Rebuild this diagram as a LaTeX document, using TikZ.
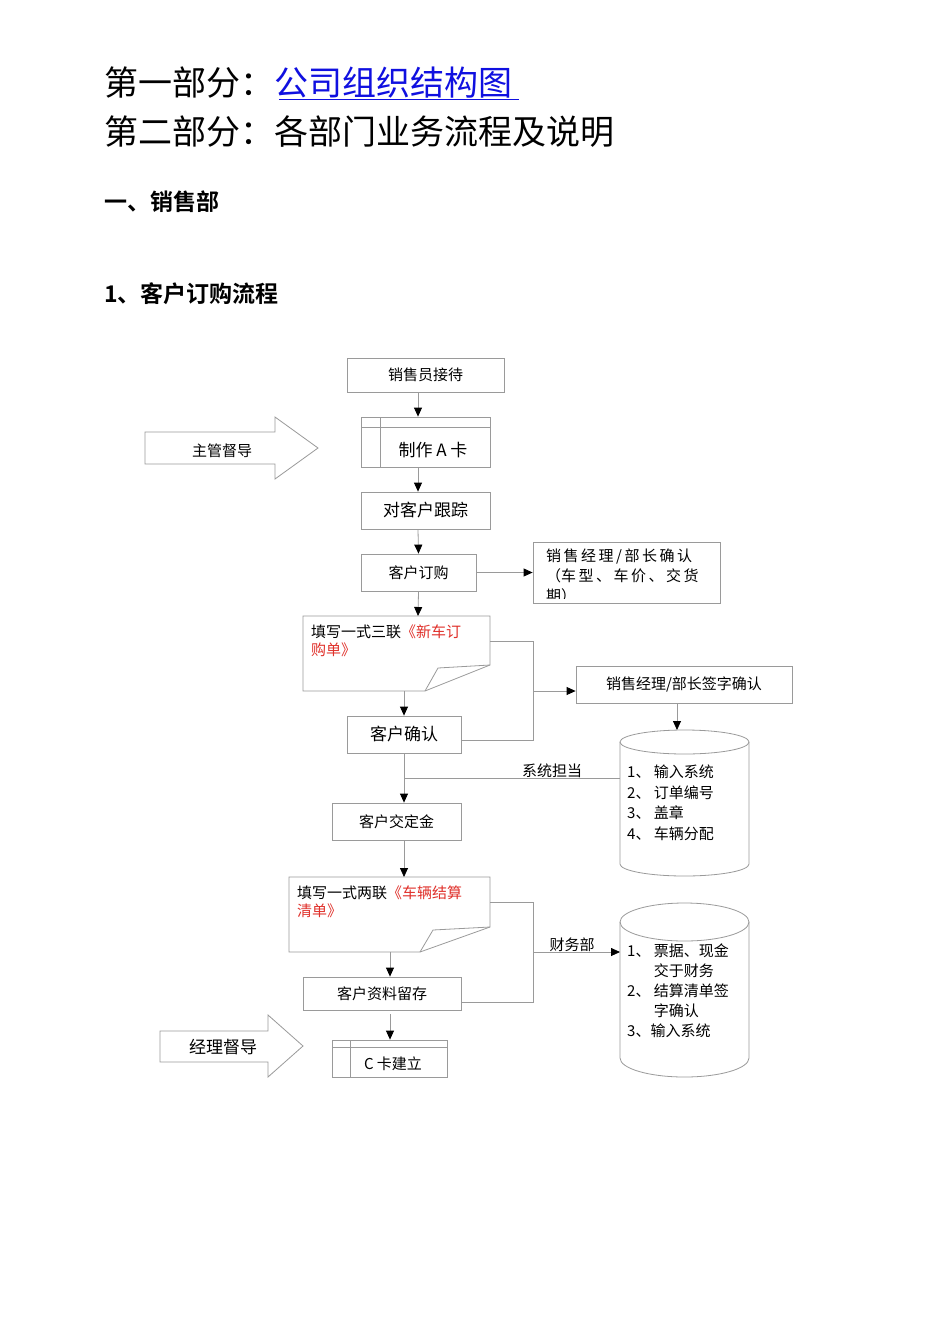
\documentclass[tikz,border=0pt]{standalone}
\usepackage{fontspec}
\setmainfont{Noto Sans CJK SC}[BoldFont={* Bold}]
\usetikzlibrary{arrows.meta}
\definecolor{ln}{HTML}{9A9A9A}
\definecolor{rd}{HTML}{E0302A}
\definecolor{lk}{HTML}{1010E0}
\tikzset{
  bx/.style={draw=ln,line width=0.8pt,inner sep=0pt,font=\fontsize{15}{18}\selectfont},
  cn/.style={draw=ln,line width=0.8pt},
  ar/.style={cn,-{Triangle[length=9pt,width=8pt,fill=black,color=black]}},
  lb/.style={font=\fontsize{15}{18}\selectfont,inner sep=1pt},
}
\begin{document}
\begin{tikzpicture}[x=1pt,y=-1pt]
\useasboundingbox[fill=white] (0,0) rectangle (950,1344);
% titles
\node[anchor=base west,inner sep=0,font=\fontsize{34}{40}\selectfont] (t1) at (104,95) {第一部分：\textcolor{lk}{公司组织结构图}};
\draw[lk,line width=1pt] (279,99) -- (519,99);
\node[anchor=base west,inner sep=0,font=\fontsize{34}{40}\selectfont] (t2) at (104,144) {第二部分：各部门业务流程及说明};
\node[anchor=base west,inner sep=0,font=\bfseries\fontsize{23}{28}\selectfont] (t3) at (104,210) {一、销售部};
\node[anchor=base west,inner sep=0,font=\bfseries\fontsize{23}{28}\selectfont] (t4) at (104,302) {1、客户订购流程};
% boxes
\node[bx,minimum width=157,minimum height=34] (a) at (425.5,375) {销售员接待};
\node[bx,minimum width=129,minimum height=50] (b) at (425.5,442) {};
\draw[cn] (380,417) -- (380,467) (361,427) -- (490,427);
\node[lb,font=\fontsize{17}{20}\selectfont] (bt) at (433,450) {制作 A 卡};
\node[bx,minimum width=129,minimum height=37,font=\fontsize{17}{20}\selectfont] (c) at (425.5,510.5) {对客户跟踪};
\node[bx,minimum width=115,minimum height=37] (d) at (418.5,572.5) {客户订购};
\node[bx,minimum width=187,minimum height=61] (e) at (626.5,572.5) {};
\begin{scope}
\clip (533,542) rectangle (720,598);
\node[lb,anchor=north west,align=left,font=\fontsize{15}{20}\selectfont] (et) at (545,548) {销\,售\,经\,理\,/\,部\,长\,确\,认\\（车\,型\,、\,车\,价\,、\,交\,货\\期）};
\end{scope}
% doc 1
\draw[cn] (303,616) -- (490,616) -- (490,665) -- (425,691) -- (303,691) -- cycle;
\draw[cn] (490,665) -- (438,668) -- (425,691);
\coordinate (f) at (404,691);
\coordinate (fr) at (490,641);
\node[lb,anchor=north west,align=left] (ft) at (310,624) {填写一式三联\textcolor{rd}{《新车订}\\\textcolor{rd}{购单》}};
\node[bx,minimum width=114,minimum height=37,font=\fontsize{17}{20}\selectfont] (g) at (404,734.5) {客户确认};
\node[bx,minimum width=216,minimum height=37] (h) at (684,684.5) {销售经理/部长签字确认};
% cylinder 1
\draw[cn] (620,742) -- (620,864) arc[start angle=180,end angle=0,x radius=64.5,y radius=12] -- (749,742);
\draw[cn] (684.5,742) ellipse[x radius=64.5,y radius=12];
\coordinate (cy1) at (620,778);
\coordinate (cy1t) at (677,730);
\node[lb,anchor=north west,align=left,font=\fontsize{15}{20.5}\selectfont] (ct1) at (626,764) {1、\ 输入系统\\2、\ 订单编号\\3、\ 盖章\\4、\ 车辆分配};
\node[bx,minimum width=129,minimum height=37] (k) at (396.5,821.5) {客户交定金};
% doc 2
\draw[cn] (289,877) -- (490,877) -- (490,927) -- (420,952) -- (289,952) -- cycle;
\draw[cn] (490,927) -- (433,930) -- (420,952);
\coordinate (m) at (390,952);
\coordinate (mr) at (490,902);
\node[lb,anchor=north west,align=left] (mt) at (296,885) {填写一式两联\textcolor{rd}{《车辆结算}\\\textcolor{rd}{清单》}};
\node[bx,minimum width=158,minimum height=33] (n) at (382,993.5) {客户资料留存};
% cylinder 2
\draw[cn] (620,922) -- (620,1058) arc[start angle=180,end angle=0,x radius=64.5,y radius=19] -- (749,922);
\draw[cn] (684.5,922) ellipse[x radius=64.5,y radius=19];
\coordinate (cy2) at (620,952);
\node[lb,anchor=north west,align=left,font=\fontsize{15}{20}\selectfont] (ct2) at (626,943) {1、\ 票据、现金\\\hphantom{1、\ }交于财务\\2、\ 结算清单签\\\hphantom{1、\ }字确认\\3、输入系统};
\node[bx,minimum width=115,minimum height=37] (p) at (389.5,1058.5) {};
\draw[cn] (350,1040) -- (350,1077) (332,1047) -- (447,1047);
\node[lb] (pt) at (393,1064) {C 卡建立};
% big arrows
\draw[cn] (145,432) -- (275,432) -- (275,417) -- (318,448) -- (275,479) -- (275,464) -- (145,464) -- cycle;
\node[lb] (s1) at (222,451) {主管督导};
\draw[cn] (160,1031) -- (268,1031) -- (268,1015) -- (303,1046) -- (268,1077) -- (268,1062) -- (160,1062) -- cycle;
\node[lb,font=\fontsize{17}{20}\selectfont] (s2) at (223,1047) {经理督导};
% connectors
\draw[ar] (a.south -| 418,0) -- (b.north -| 418,0);
\draw[ar] (b.south -| 418,0) -- (c.north -| 418,0);
\draw[ar] (c.south -| 418,0) -- (d.north);
\draw[ar] (d.east) -- (e.west |- d.east);
\draw[ar] (d.south) -- (418,616);
\draw[ar] (f) -- (g.north);
\draw[cn] (fr) -- (533,641) -- (533,740) -- (g.east |- 0,740);
\draw[ar] (533,691) -- (h.west |- 0,691);
\draw[ar] (h.south -| cy1t) -- (cy1t);
\draw[ar] (g.south) -- (k.north -| g.south);
\draw[cn] (404,778) -- (cy1);
\node[lb,anchor=south] (l1) at (552,779) {系统担当};
\draw[ar] (k.south -| g.south) -- (404,877);
\draw[ar] (m) -- (n.north -| m);
\draw[cn] (mr) -- (533,902) -- (533,1002) -- (n.east |- 0,1002);
\draw[ar] (533,952) -- (cy2);
\node[lb,anchor=south] (l2) at (572,953) {财务部};
\draw[ar] (390,1014) -- (p.north -| 390,0);
\end{tikzpicture}
\end{document}
